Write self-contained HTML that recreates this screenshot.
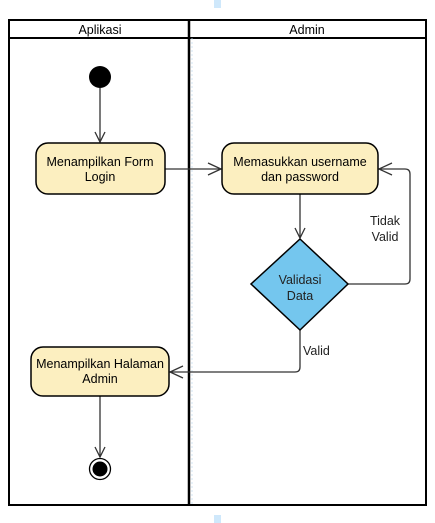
<!DOCTYPE html>
<html><head><style>body{margin:0;background:#fff}svg{display:block}</style></head><body>
<svg width="435" height="523" xmlns="http://www.w3.org/2000/svg" font-family="Liberation Sans, sans-serif">
<rect x="214" y="0" width="7" height="8" fill="#cfe8fb"/>
<rect x="214" y="515" width="7" height="8" fill="#cfe8fb"/>
<rect x="9" y="20" width="417" height="485" fill="none" stroke="#000" stroke-width="2"/>
<line x1="9" y1="38" x2="426" y2="38" stroke="#000" stroke-width="2"/>
<line x1="189" y1="20" x2="189" y2="505" stroke="#000" stroke-width="2.5"/>
<line x1="192" y1="38" x2="192" y2="505" stroke="#c5dcef" stroke-width="0.8" stroke-dasharray="2,2"/>
<text x="100" y="34" font-size="12.5" text-anchor="middle">Aplikasi</text>
<text x="307" y="34" font-size="12.5" text-anchor="middle">Admin</text>
<g stroke="#333" stroke-width="1.3" fill="none">
<line x1="100" y1="88" x2="100" y2="142"/><polyline points="95,132 100,142 105,132"/>
<line x1="165" y1="169" x2="221" y2="169"/><polyline points="208,163 221,169 208,175"/>
<line x1="300" y1="194" x2="300" y2="238"/><polyline points="295,228 300,238 305,228"/>
<path d="M348 284 H405 Q410 284 410 279 V174 Q410 169 405 169 H379"/><polyline points="392,163 379,169 392,175"/>
<path d="M300 330 V367 Q300 372 295 372 H170"/><polyline points="183,366 170,372 183,378"/>
<line x1="100" y1="396" x2="100" y2="457"/><polyline points="95,447 100,457 105,447"/>
</g>
<circle cx="100" cy="77" r="11" fill="#000"/>
<rect x="36" y="143" width="129" height="51" rx="12" fill="#fcefc0" stroke="#000" stroke-width="1.5"/>
<text font-size="12.5" text-anchor="middle"><tspan x="100" y="166">Menampilkan Form</tspan><tspan x="100" y="181">Login</tspan></text>
<rect x="222" y="143" width="156" height="51" rx="12" fill="#fcefc0" stroke="#000" stroke-width="1.5"/>
<text font-size="12.5" text-anchor="middle"><tspan x="300" y="166">Memasukkan username</tspan><tspan x="300" y="181">dan password</tspan></text>
<polygon points="300,239 348,284 300,330 251,284" fill="#74c6ee" stroke="#000" stroke-width="1.5"/>
<text font-size="12.5" text-anchor="middle" fill="#222"><tspan x="300" y="284">Validasi</tspan><tspan x="300" y="300">Data</tspan></text>
<text font-size="12.5" text-anchor="middle" fill="#222"><tspan x="385" y="225">Tidak</tspan><tspan x="385" y="241">Valid</tspan></text>
<text x="303" y="355" font-size="12.5" fill="#222">Valid</text>
<rect x="31" y="347" width="138" height="49" rx="12" fill="#fcefc0" stroke="#000" stroke-width="1.5"/>
<text font-size="12.5" text-anchor="middle"><tspan x="100" y="368">Menampilkan Halaman</tspan><tspan x="100" y="383">Admin</tspan></text>
<circle cx="100" cy="469" r="10.5" fill="#fff" stroke="#000" stroke-width="1.3"/>
<circle cx="100" cy="469" r="7.5" fill="#000"/>
</svg>
</body></html>
